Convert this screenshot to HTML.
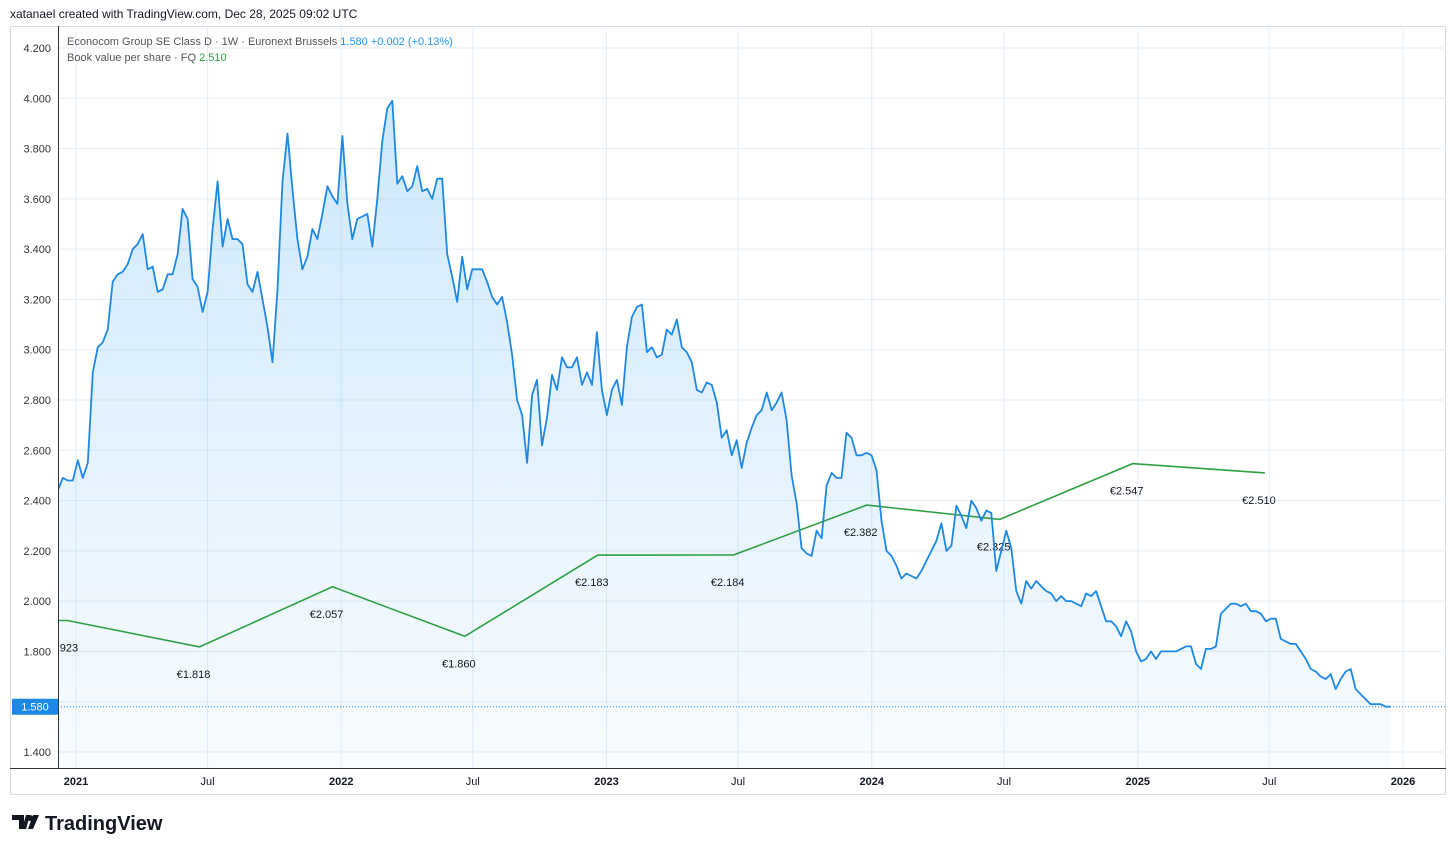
<!DOCTYPE html>
<html><head><meta charset="utf-8">
<style>
body{margin:0;background:#fff;font-family:"Liberation Sans",sans-serif;}
svg text{font-family:"Liberation Sans",sans-serif;}
</style></head>
<body>
<svg id="chart" width="1456" height="851" xmlns="http://www.w3.org/2000/svg">
<defs>
<linearGradient id="areaGrad" x1="0" y1="0" x2="0" y2="1">
<stop offset="0" stop-color="#2196f3" stop-opacity="0.22"/>
<stop offset="1" stop-color="#2196f3" stop-opacity="0.03"/>
</linearGradient>
<clipPath id="plotClip"><rect x="58" y="26" width="1388" height="742"/></clipPath>
</defs>
<text x="10" y="18" font-size="12" fill="#131722">xatanael created with TradingView.com, Dec 28, 2025 09:02 UTC</text>
<rect x="10.5" y="26.5" width="1435" height="768" fill="none" stroke="#d6dce3"/>
<g id="grid"></g>
<g id="area" clip-path="url(#plotClip)"></g>
<g id="series" clip-path="url(#plotClip)"></g>
<g id="axes"></g>
<text x="67" y="45" font-size="11" fill="#555">Econocom Group SE Class D · 1W · Euronext Brussels <tspan fill="#2196f3">1.580 +0.002 (+0.13%)</tspan></text>
<text x="67" y="61" font-size="11" fill="#555">Book value per share · FQ <tspan fill="#2ea043">2.510</tspan></text>
<g>
<path d="M12 815h12v14h-5v-9h-7z M26 815h4l-4 14h-4z" fill="#131722"/>
<circle cx="30" cy="818" r="3" fill="#131722"/>
<path d="M33 815h6l-6 14h-5z" fill="#131722"/>
<text x="45" y="830" font-size="20" font-weight="bold" fill="#131722">TradingView</text>
</g>
</svg>
<script>
const priceValues=[2.44,2.49,2.48,2.48,2.56,2.49,2.55,2.91,3.01,3.03,3.08,3.27,3.30,3.31,3.34,3.40,3.42,3.46,3.32,3.33,3.23,3.24,3.30,3.30,3.38,3.56,3.52,3.28,3.25,3.15,3.23,3.48,3.67,3.41,3.52,3.44,3.44,3.42,3.26,3.23,3.31,3.20,3.09,2.95,3.24,3.67,3.86,3.64,3.44,3.32,3.37,3.48,3.44,3.54,3.65,3.61,3.58,3.85,3.58,3.44,3.52,3.53,3.54,3.41,3.60,3.83,3.96,3.99,3.66,3.69,3.63,3.65,3.73,3.63,3.64,3.60,3.68,3.68,3.38,3.29,3.19,3.37,3.24,3.32,3.32,3.32,3.27,3.21,3.18,3.21,3.11,2.98,2.80,2.74,2.55,2.82,2.88,2.62,2.73,2.90,2.84,2.97,2.93,2.93,2.97,2.86,2.91,2.86,3.07,2.84,2.74,2.84,2.88,2.78,3.01,3.13,3.17,3.18,2.99,3.01,2.97,2.98,3.08,3.06,3.12,3.01,2.99,2.95,2.84,2.83,2.87,2.86,2.79,2.65,2.68,2.58,2.64,2.53,2.63,2.69,2.74,2.76,2.83,2.76,2.79,2.83,2.72,2.50,2.39,2.21,2.19,2.18,2.28,2.25,2.46,2.51,2.49,2.49,2.67,2.65,2.58,2.58,2.59,2.58,2.52,2.32,2.20,2.18,2.14,2.09,2.11,2.10,2.09,2.12,2.16,2.20,2.24,2.31,2.20,2.22,2.38,2.34,2.29,2.40,2.37,2.32,2.36,2.35,2.12,2.20,2.28,2.21,2.04,1.99,2.08,2.05,2.08,2.06,2.04,2.03,2.00,2.02,2.00,2.00,1.99,1.98,2.03,2.02,2.04,1.98,1.92,1.92,1.90,1.86,1.92,1.88,1.80,1.76,1.77,1.80,1.77,1.80,1.80,1.80,1.80,1.81,1.82,1.82,1.75,1.73,1.81,1.81,1.82,1.95,1.97,1.99,1.99,1.98,1.99,1.96,1.96,1.95,1.92,1.93,1.93,1.85,1.84,1.83,1.83,1.80,1.77,1.73,1.72,1.70,1.69,1.71,1.65,1.69,1.72,1.73,1.65,1.63,1.61,1.59,1.59,1.59,1.58,1.58];
const priceStart="2020-12-07";
const priceEnd="2025-12-15";
const bookDates=["2020-12-20","2021-06-20","2021-12-20","2022-06-20","2022-12-20","2023-06-25","2023-12-25","2024-06-25","2024-12-25","2025-06-25"];
const bookValues=[1.923,1.818,2.057,1.860,2.183,2.184,2.382,2.325,2.547,2.510];
const yTicks=[1.4,1.6,1.8,2.0,2.2,2.4,2.6,2.8,3.0,3.2,3.4,3.6,3.8,4.0,4.2];
const xTickDates=["2021-01-01","2021-07-01","2022-01-01","2022-07-01","2023-01-01","2023-07-01","2024-01-01","2024-07-01","2025-01-01","2025-07-01","2026-01-01"];
const xTickLabels=["2021","Jul","2022","Jul","2023","Jul","2024","Jul","2025","Jul","2026"];
const lastPrice=1.580;

const NS="http://www.w3.org/2000/svg";
const Y0=48,Y1=752;
function y(v){return Y0+(4.2-v)*(Y1-Y0)/2.8;}
const T0=Date.UTC(2021,0,1),T1=Date.UTC(2026,0,1);
function x(d){const t=(typeof d==="number")?d:Date.parse(d+"T00:00:00Z");return 76+(t-T0)/(T1-T0)*1327;}
function mk(tag,attrs,parent){const e=document.createElementNS(NS,tag);for(const k in attrs)e.setAttribute(k,attrs[k]);parent.appendChild(e);return e;}
const grid=document.getElementById('grid'),axes=document.getElementById('axes'),area=document.getElementById('area'),series=document.getElementById('series');
yTicks.forEach(v=>{
 const l=mk('line',{x1:58,x2:1446,y1:y(v),y2:y(v),stroke:'#e3eef8'},grid);
 
 
 if(Math.abs(y(v)-y(lastPrice))<12) return;
 const t=mk('text',{x:51,y:y(v)+4,'font-size':11,'text-anchor':'end',fill:'#333'},axes);
 t.textContent=v.toFixed(3);
 
 
});
xTickDates.forEach((d,i)=>{
 const l=mk('line',{x1:x(d),x2:x(d),y1:26,y2:768,stroke:'#e3eef8'},grid);
 
 
 const bold=xTickLabels[i]!=="Jul";
 const t=mk('text',{x:x(d),y:785,'font-size':11,'text-anchor':'middle',fill:'#131722','font-weight':bold?'bold':'normal'},axes);
 t.textContent=xTickLabels[i];
 
 
});
const ax1=mk('line',{x1:58.5,x2:58.5,y1:26,y2:768,stroke:'#333'},axes);


const ax2=mk('line',{x1:10,x2:1446,y1:768.5,y2:768.5,stroke:'#333'},axes);



const s0=Date.parse(priceStart+"T00:00:00Z"),s1=Date.parse(priceEnd+"T00:00:00Z");
const pts=priceValues.map((v,i)=>[x(s0+(s1-s0)*i/(priceValues.length-1)),y(v)]);
const line=pts.map((p,i)=>(i?'L':'M')+p[0].toFixed(1)+' '+p[1].toFixed(1)).join(' ');
const a=mk('path',{d:line+` L${pts[pts.length-1][0]} 768 L${pts[0][0]} 768 Z`,fill:'url(#areaGrad)'},area);


const bp=bookDates.map((d,i)=>[x(d),y(bookValues[i])]);
const bl=mk('path',{d:`M58 ${bp[0][1]} `+bp.map(p=>'L'+p[0].toFixed(1)+' '+p[1].toFixed(1)).join(' '),fill:'none',stroke:'#2ea043','stroke-width':1.6},series);


bp.forEach((p,i)=>{
 const t=mk('text',{x:p[0]-6,y:p[1]+31,'font-size':11,'text-anchor':'middle',fill:'#131722'},series);
 t.textContent='€'+bookValues[i].toFixed(3);
 
 
});
const pl=mk('path',{d:line,fill:'none',stroke:'#1e88e5','stroke-width':1.8,'stroke-linejoin':'round'},series);


const hl=mk('line',{x1:58,x2:1446,y1:y(lastPrice),y2:y(lastPrice),stroke:'#1e88e5','stroke-dasharray':'1 2'},series);


const lb=mk('rect',{x:12,y:y(lastPrice)-8,width:46,height:16,fill:'#1e88e5',rx:1},axes);


const lt=mk('text',{x:35,y:y(lastPrice)+4,'font-size':11,'text-anchor':'middle',fill:'#fff'},axes);
lt.textContent=lastPrice.toFixed(3);


</script>
</body></html>
